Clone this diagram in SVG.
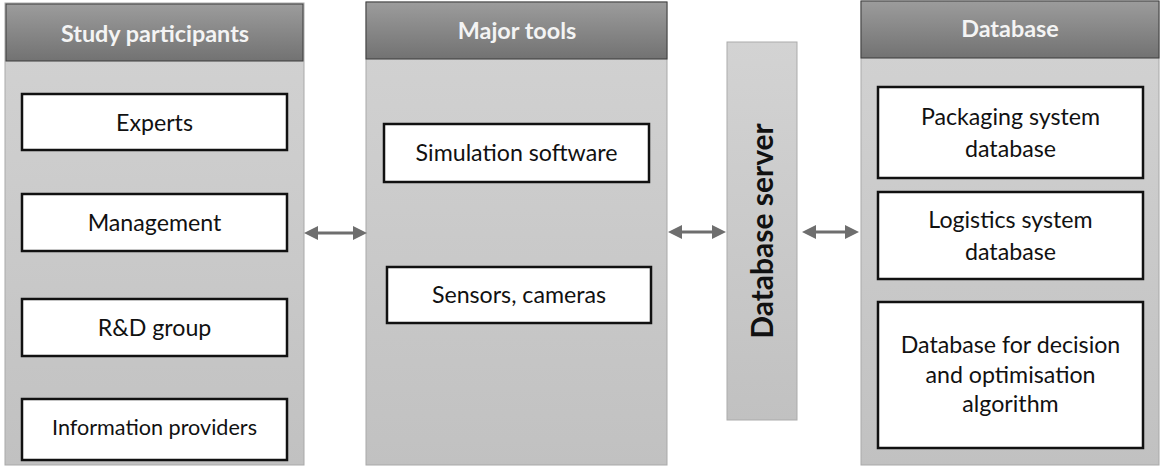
<svg xmlns="http://www.w3.org/2000/svg" width="1161" height="466" viewBox="0 0 1161 466">
  <defs>
    <linearGradient id="headFill" x1="0" y1="0" x2="0" y2="1">
      <stop offset="0" stop-color="#9c9c9c"/>
      <stop offset="1" stop-color="#727272"/>
    </linearGradient>
    <linearGradient id="bodyFill" x1="0" y1="0" x2="0" y2="1">
      <stop offset="0" stop-color="#d3d3d3"/>
      <stop offset="1" stop-color="#c1c1c1"/>
    </linearGradient>
    <marker id="head" viewBox="0 0 14 14" refX="4" refY="7" markerWidth="14" markerHeight="14" markerUnits="userSpaceOnUse" orient="auto-start-reverse">
      <path d="M0,0 L14,7 L0,14 z" fill="#6e6e6e"/>
    </marker>
    <style>
      .body { fill: url(#bodyFill); stroke: #a9a9a9; stroke-width: 1; }
      .header { fill: url(#headFill); stroke: #3c3c3c; stroke-width: 1; }
      .htext { font-family: Lato, "Liberation Sans", sans-serif; font-weight: bold; font-size: 23.4px; fill: #f4f4f4; text-anchor: middle; }
      .box { fill: #ffffff; stroke: #111111; stroke-width: 2.5; }
      .label { font-family: Lato, "Liberation Sans", sans-serif; font-size: 23.2px; fill: #111111; text-anchor: middle; }
      .small { font-size: 21.6px; }
      .server { fill: url(#bodyFill); stroke: #ababab; stroke-width: 1; }
      .stext { font-family: Lato, "Liberation Sans", sans-serif; font-weight: bold; font-size: 30px; fill: #111111; text-anchor: middle; }
      .conn { stroke: #6e6e6e; stroke-width: 3; fill: none; marker-start: url(#head); marker-end: url(#head); }
    </style>
  </defs>

  <!-- Column 1: study participants -->
  <g id="participants">
    <rect class="body" x="5" y="3" width="299" height="462"/>
    <rect class="header" x="6" y="4" width="297" height="57"/>
    <text class="htext" x="155" y="42">Study participants</text>
  </g>
  <g id="experts">
    <rect class="box" x="22" y="94" width="265" height="56"/>
    <text class="label" x="154.5" y="131">Experts</text>
  </g>
  <g id="management">
    <rect class="box" x="22" y="194" width="265" height="57"/>
    <text class="label" x="154.5" y="231">Management</text>
  </g>
  <g id="rnd">
    <rect class="box" x="22" y="299" width="265" height="57"/>
    <text class="label" x="154.5" y="336">R&amp;D group</text>
  </g>
  <g id="providers">
    <rect class="box" x="22" y="399" width="265" height="61"/>
    <text class="label small" x="154.5" y="435">Information providers</text>
  </g>

  <!-- Column 2: major tools -->
  <g id="tools">
    <rect class="body" x="366" y="2" width="301" height="463"/>
    <rect class="header" x="366" y="2" width="301" height="57"/>
    <text class="htext" x="517" y="39">Major tools</text>
  </g>
  <g id="simulation">
    <rect class="box" x="384" y="124" width="265" height="58"/>
    <text class="label" x="516.5" y="161">Simulation software</text>
  </g>
  <g id="sensors">
    <rect class="box" x="387" y="267" width="264" height="56"/>
    <text class="label" x="519" y="303">Sensors, cameras</text>
  </g>

  <!-- Database server bar -->
  <g id="server">
    <rect class="server" x="727" y="42" width="70" height="378"/>
    <text class="stext" transform="rotate(-90 773 231)" x="773" y="231">Database server</text>
  </g>

  <!-- Column 3: database -->
  <g id="database">
    <rect class="body" x="861" y="1" width="298" height="464"/>
    <rect class="header" x="861" y="1" width="298" height="57"/>
    <text class="htext" x="1010" y="37">Database</text>
  </g>
  <g id="packaging">
    <rect class="box" x="878" y="87" width="265" height="91"/>
    <text class="label" x="1010.5" y="125">Packaging system</text>
    <text class="label" x="1010.5" y="157">database</text>
  </g>
  <g id="logistics">
    <rect class="box" x="878" y="192" width="265" height="87"/>
    <text class="label" x="1010.5" y="228">Logistics system</text>
    <text class="label" x="1010.5" y="260">database</text>
  </g>
  <g id="decision">
    <rect class="box" x="878" y="302" width="265" height="146"/>
    <text class="label" x="1010.5" y="353">Database for decision</text>
    <text class="label" x="1010.5" y="383">and optimisation</text>
    <text class="label" x="1010.5" y="412">algorithm</text>
  </g>

  <!-- Two-way connectors between columns -->
  <g id="connectors">
    <line class="conn" x1="314" y1="233" x2="357" y2="233"/>
    <line class="conn" x1="678" y1="232" x2="716" y2="232"/>
    <line class="conn" x1="812" y1="232" x2="849" y2="232"/>
  </g>
</svg>
